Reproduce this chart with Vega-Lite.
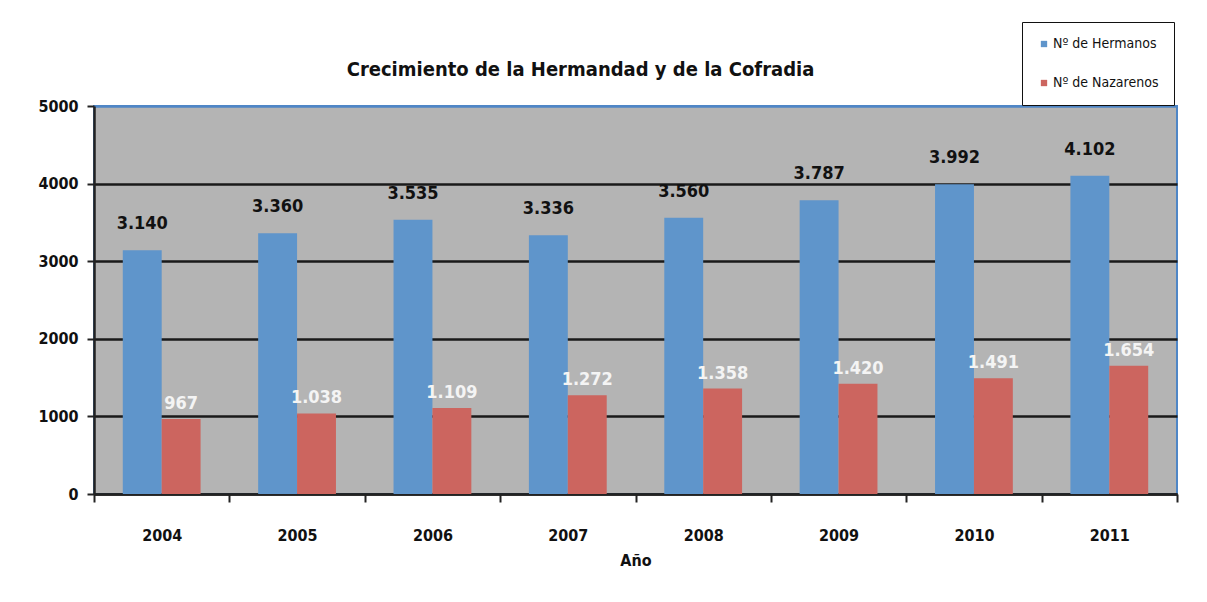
{
  "$schema": "https://vega.github.io/schema/vega-lite/v6.json",
  "width": 1083,
  "height": 388,
  "autosize": {"type": "none"},
  "padding": {"left": 94, "top": 106, "right": 30, "bottom": 108},
  "background": "white",
  "title": {
    "text": "Crecimiento de la Hermandad y de la Cofradia",
    "fontSize": 20,
    "fontWeight": "bold",
    "font": "DejaVu Sans Condensed, Liberation Sans Narrow, Liberation Sans, sans-serif",
    "color": "#111111",
    "anchor": "middle",
    "frame": "group",
    "dx": -55,
    "dy": 84,
    "offset": 26
  },
  "data": {
    "values": [
      {"year": "2004", "series": "Nº de Hermanos", "value": 3140},
      {"year": "2005", "series": "Nº de Hermanos", "value": 3360},
      {"year": "2006", "series": "Nº de Hermanos", "value": 3535},
      {"year": "2007", "series": "Nº de Hermanos", "value": 3336},
      {"year": "2008", "series": "Nº de Hermanos", "value": 3560},
      {"year": "2009", "series": "Nº de Hermanos", "value": 3787},
      {"year": "2010", "series": "Nº de Hermanos", "value": 3992},
      {"year": "2011", "series": "Nº de Hermanos", "value": 4102},
      {"year": "2004", "series": "Nº de Nazarenos", "value": 967},
      {"year": "2005", "series": "Nº de Nazarenos", "value": 1038},
      {"year": "2006", "series": "Nº de Nazarenos", "value": 1109},
      {"year": "2007", "series": "Nº de Nazarenos", "value": 1272},
      {"year": "2008", "series": "Nº de Nazarenos", "value": 1358},
      {"year": "2009", "series": "Nº de Nazarenos", "value": 1420},
      {"year": "2010", "series": "Nº de Nazarenos", "value": 1491},
      {"year": "2011", "series": "Nº de Nazarenos", "value": 1654}
    ]
  },
  "encoding": {
    "x": {
      "field": "year",
      "type": "nominal",
      "title": "Año",
      "scale": {"paddingInner": 0, "paddingOuter": 0},
      "axis": {
        "labelAngle": 0,
        "labelFontSize": 16,
        "labelFontWeight": "bold",
        "labelColor": "#111111",
        "labelPadding": 25,
        "tickBand": "extent",
        "tickSize": 8,
        "tickWidth": 2,
        "tickColor": "#222222",
        "domainColor": "#222222",
        "domainWidth": 2.5,
        "titleFontSize": 16,
        "titleFontWeight": "bold",
        "titleColor": "#111111",
        "titlePadding": 9
      }
    },
    "xOffset": {
      "field": "series",
      "type": "nominal",
      "sort": ["Nº de Hermanos", "Nº de Nazarenos"],
      "scale": {"paddingInner": 0, "paddingOuter": 0.74}
    },
    "y": {
      "field": "value",
      "type": "quantitative",
      "title": null,
      "scale": {"domain": [0, 5000], "nice": false},
      "axis": {
        "values": [0, 1000, 2000, 3000, 4000, 5000],
        "format": "d",
        "labelFontSize": 16,
        "labelFontWeight": "bold",
        "labelColor": "#111111",
        "labelPadding": 9,
        "tickSize": 7,
        "tickWidth": 2,
        "tickColor": "#222222",
        "domainColor": "#222222",
        "domainWidth": 2.5,
        "grid": true,
        "gridColor": {"condition": {"test": "datum.value == 5000", "value": "#4f86c6"}, "value": "#1a1a1a"},
        "gridWidth": 2.5
      }
    }
  },
  "layer": [
    {
      "mark": {"type": "bar"},
      "encoding": {
        "color": {
          "field": "series",
          "type": "nominal",
          "sort": ["Nº de Hermanos", "Nº de Nazarenos"],
          "scale": {"range": ["#5f95cb", "#cc655f"]},
          "legend": {
            "title": null,
            "orient": "none",
            "legendX": 928,
            "legendY": -84,
            "symbolType": "square",
            "symbolSize": 40,
            "symbolStrokeWidth": 0,
            "labelFontSize": 14,
            "labelFont": "DejaVu Sans Condensed, Liberation Sans Narrow, Liberation Sans, sans-serif",
            "labelColor": "#111111",
            "labelOffset": 2,
            "rowPadding": 25,
            "padding": 15,
            "strokeColor": "#111111",
            "fillColor": "white"
          }
        }
      }
    },
    {
      "transform": [{"filter": "datum.series == 'Nº de Hermanos'"}],
      "mark": {
        "type": "text",
        "baseline": "bottom",
        "dy": -17,
        "fontSize": 18,
        "fontWeight": "bold",
        "font": "DejaVu Sans Condensed, Liberation Sans Narrow, Liberation Sans, sans-serif",
        "color": "#111111"
      },
      "encoding": {"text": {"field": "value", "type": "quantitative", "format": ",d"}}
    },
    {
      "transform": [{"filter": "datum.series == 'Nº de Nazarenos'"}],
      "mark": {
        "type": "text",
        "baseline": "bottom",
        "dy": -6,
        "fontSize": 18,
        "fontWeight": "bold",
        "font": "DejaVu Sans Condensed, Liberation Sans Narrow, Liberation Sans, sans-serif",
        "color": "#f4f4f4"
      },
      "encoding": {"text": {"field": "value", "type": "quantitative", "format": ",d"}}
    }
  ],
  "config": {
    "locale": {
      "number": {"decimal": ",", "thousands": ".", "grouping": [3], "currency": ["", " €"]}
    },
    "font": "DejaVu Sans Condensed, Liberation Sans Narrow, Liberation Sans, sans-serif",
    "view": {"fill": "#b4b4b4", "stroke": "#4f86c6", "strokeWidth": 2}
  }
}
